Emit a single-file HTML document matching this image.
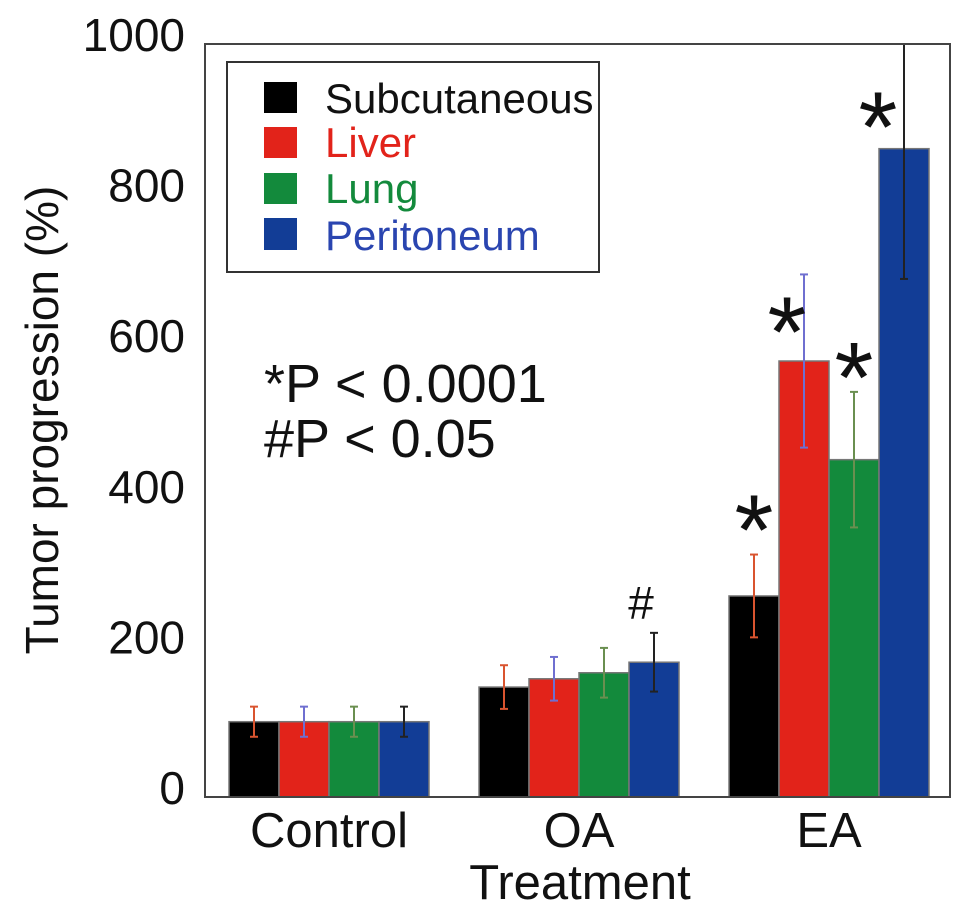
<!DOCTYPE html>
<html><head><meta charset="utf-8"><style>
body{margin:0;background:#fff;}
svg{display:block;font-family:"Liberation Sans",sans-serif;}
</style></head><body>
<svg id="chart" width="969" height="924">
</svg>
<script>
const categories=["Control","OA","EA"];
const seriesNames=["Subcutaneous","Liver","Lung","Peritoneum"];
const subcutaneous=[100,146,267];
const liver=[100,157,579];
const lung=[100,165,448];
const peritoneum=[100,179,861];
const errSub=[20,29,55];
const errLiver=[20,29,115];
const errLung=[20,33,90];
const errPer=[20,39,173];
const yTicks=[0,200,400,600,800,1000];
const fills=["#000000","#e2231a","#138a3c","#123d96"];
const errColors=["#d9542f","#6f6fd0","#6a8f50","#222222"];
const values=[subcutaneous,liver,lung,peritoneum];
const errs=[errSub,errLiver,errLung,errPer];
const marks=[["","","*"],["","","*"],["","","*"],["","#","*"]];

const L=205,R=950,T=44,B=797,NS="http://www.w3.org/2000/svg";
const y=v=>B-(v/1000)*(B-T);
const groupX=i=>229+i*250;
const bw=50;
const svg=document.getElementById('chart');
function mk(tag,attrs,parent){const e=document.createElementNS(NS,tag);for(const k in attrs)e.setAttribute(k,attrs[k]);(parent||svg).appendChild(e);return e;}

const clip=mk('clipPath',{id:'pc'});mk('rect',{x:L,y:T,width:R-L,height:B-T},clip);
const g=mk('g',{'clip-path':'url(#pc)'});
const starOff=[[0,-34],[-17,48],[0,-24],[-26,0]];
values.forEach((s,si)=>{s.forEach((v,ci)=>{
  const x=groupX(ci)+si*bw;
  const r=mk('rect',{x:x,y:y(v),width:bw,height:B-y(v),fill:fills[si],stroke:'#777','stroke-width':1.5},g);
  
  
  const cx=x+bw/2,e=errs[si][ci];
  const eg=mk('g',{stroke:errColors[si],'stroke-width':2},g);
  
  
  mk('line',{x1:cx,x2:cx,y1:y(v+e),y2:y(v-e)},eg);
  mk('line',{x1:cx-4,x2:cx+4,y1:y(v+e),y2:y(v+e)},eg);
  mk('line',{x1:cx-4,x2:cx+4,y1:y(v-e),y2:y(v-e)},eg);
  const m=marks[si][ci];
  if(m){let t;
    if(m==='*'){
      let cy=si===3?y(v)-31:y(v+e)+starOff[si][1];
      t=mk('text',{x:cx+starOff[si][0],y:cy+44,'text-anchor':'middle','font-size':100,fill:'#111'});
    } else {
      t=mk('text',{x:cx-13,y:y(v+e)-14,'text-anchor':'middle','font-size':46,fill:'#111'});
    }
    t.textContent=m;
    
    }
});});
const frame=mk('rect',{x:L,y:T,width:R-L,height:B-T,fill:'none',stroke:'#444','stroke-width':2});


yTicks.forEach(t=>{const tx=mk('text',{x:185,y:y(t)+7,'text-anchor':'end','font-size':46,fill:'#111'});tx.textContent=t;
  
  });
categories.forEach((c,i)=>{const tx=mk('text',{x:groupX(i)+100,y:847,'text-anchor':'middle','font-size':49,fill:'#111'});tx.textContent=c;
  
  });
</script>
<svg width="969" height="924" style="position:absolute;left:0;top:0">
<text x="580" y="899" text-anchor="middle" font-size="49" fill="#111">Treatment</text>
<text transform="translate(58,420) rotate(-90)" text-anchor="middle" font-size="46" fill="#111">Tumor progression (%)</text>
<text x="264" y="402" font-size="54" fill="#111">*P &lt; 0.0001</text>
<text x="264" y="457" font-size="54" fill="#111">#P &lt; 0.05</text>
<g>
<rect x="227" y="62" width="372" height="210" fill="#fff" stroke="#333" stroke-width="2"/>
<rect x="264" y="82" width="33" height="31" fill="#000"/>
<text x="325" y="113" font-size="42" fill="#111">Subcutaneous</text>
<rect x="264" y="127" width="33" height="31" fill="#e2231a"/>
<text x="325" y="157" font-size="42" fill="#e2231a">Liver</text>
<rect x="264" y="173" width="33" height="31" fill="#138a3c"/>
<text x="325" y="203" font-size="42" fill="#138a3c">Lung</text>
<rect x="264" y="218" width="33" height="32" fill="#123d96"/>
<text x="325" y="250" font-size="42" fill="#2a45b0">Peritoneum</text>
</g>
</svg>
</body></html>
